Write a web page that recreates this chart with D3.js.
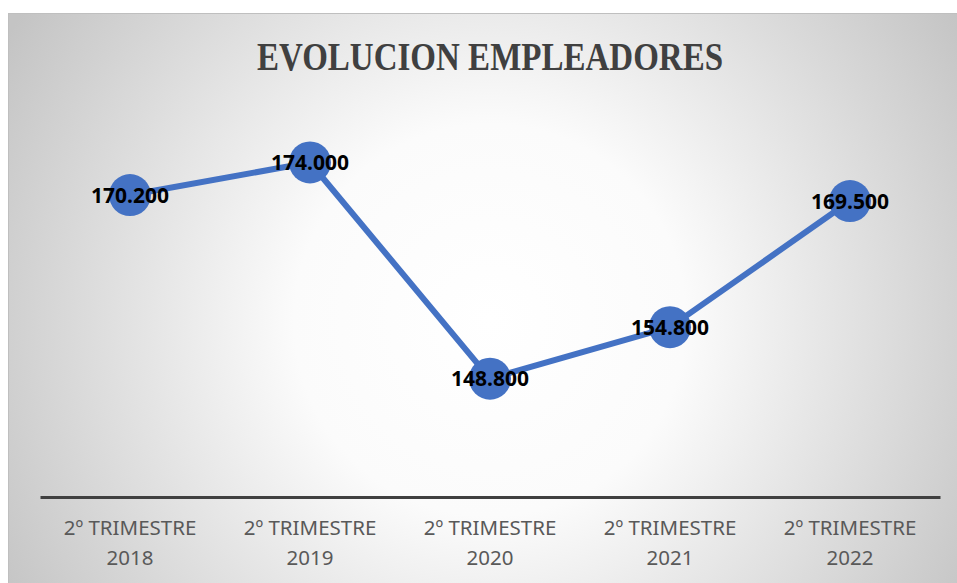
<!DOCTYPE html>
<html>
<head>
  <meta charset="utf-8">
  <title>Evolucion Empleadores</title>
  <script src="https://d3js.org/d3.v7.min.js"></script>
  <style>
    body { margin: 0; background: #fff; }
    .title { font-family: "Liberation Serif", serif; font-weight: bold; fill: #404040; }
    .label { font-family: "Noto Sans", sans-serif; font-weight: bold; font-size: 21px; fill: #000; text-anchor: middle; }
    .cat { font-family: "Noto Sans", sans-serif; font-size: 20.5px; fill: #595959; text-anchor: middle; }
  </style>
</head>
<body>
  <script>
    var categories = ["2º TRIMESTRE 2018", "2º TRIMESTRE 2019", "2º TRIMESTRE 2020", "2º TRIMESTRE 2021", "2º TRIMESTRE 2022"];
    var values = [170.2, 174.0, 148.8, 154.8, 169.5];
    var labels = ["170.200", "174.000", "148.800", "154.800", "169.500"];

    var W = 957, H = 583;
    var margin = {top: 111, right: 17, bottom: 86, left: 40},
        width = W - margin.left - margin.right,
        height = H - margin.top - margin.bottom;

    var svg = d3.select("body").append("svg")
        .attr("width", W)
        .attr("height", H);

    // radial fill of the chart area, white in the middle
    var grad = svg.append("defs").append("radialGradient")
        .attr("id", "bg")
        .attr("gradientUnits", "userSpaceOnUse")
        .attr("cx", 490).attr("cy", 320).attr("r", 560);
    grad.append("stop").attr("offset", "0").attr("stop-color", "#ffffff");
    grad.append("stop").attr("offset", "0.35").attr("stop-color", "#fbfbfb");
    grad.append("stop").attr("offset", "1").attr("stop-color", "#c4c4c4");

    svg.append("rect")
        .attr("x", 8.5).attr("y", 13.5)
        .attr("width", W - 8).attr("height", H - 13)
        .attr("fill", "url(#bg)")
        .attr("stroke", "#bfbfbf")
        .attr("stroke-width", 1);

    svg.append("text")
        .attr("class", "title")
        .attr("x", 490)
        .attr("y", 70)
        .attr("text-anchor", "middle")
        .attr("font-size", 41)
        .attr("textLength", 466)
        .attr("lengthAdjust", "spacingAndGlyphs")
        .text("EVOLUCION EMPLEADORES");

    var g = svg.append("g")
        .attr("transform", "translate(" + margin.left + "," + margin.top + ")");

    var x = d3.scaleBand()
        .domain(categories)
        .range([0, width]);

    var y = d3.scaleLinear()
        .domain([135, 180])
        .range([height, 0]);

    var data = categories.map((c, i) => ({cat: c, value: values[i], label: labels[i]}));

    var ax = g.append("g")
        .attr("transform", "translate(0," + height + ")")
        .call(d3.axisBottom(x).tickSize(0).tickFormat(""));
    ax.select(".domain").attr("stroke", "#404040").attr("stroke-width", 3);

    var cats = g.append("g").selectAll("text")
        .data(categories)
        .enter().append("text")
          .attr("class", "cat")
          .attr("x", d => x(d) + x.bandwidth() / 2)
          .attr("y", height + 38);
    cats.append("tspan")
        .attr("x", d => x(d) + x.bandwidth() / 2)
        .text(d => d.slice(0, 12));
    cats.append("tspan")
        .attr("x", d => x(d) + x.bandwidth() / 2)
        .attr("dy", 30)
        .text(d => d.slice(13));

    var line = d3.line()
        .x(d => x(d.cat) + x.bandwidth() / 2)
        .y(d => y(d.value));

    g.append("path")
        .datum(data)
        .attr("fill", "none")
        .attr("stroke", "#4472c4")
        .attr("stroke-width", 6)
        .attr("stroke-linejoin", "round")
        .attr("d", line);

    g.selectAll("circle")
        .data(data)
        .enter().append("circle")
          .attr("cx", d => x(d.cat) + x.bandwidth() / 2)
          .attr("cy", d => y(d.value))
          .attr("r", 21)
          .attr("fill", "#4472c4");

    g.selectAll(".label")
        .data(data)
        .enter().append("text")
          .attr("class", "label")
          .attr("x", d => x(d.cat) + x.bandwidth() / 2)
          .attr("y", d => y(d.value))
          .attr("dy", "0.36em")
          .text(d => d.label);
  </script>
</body>
</html>
